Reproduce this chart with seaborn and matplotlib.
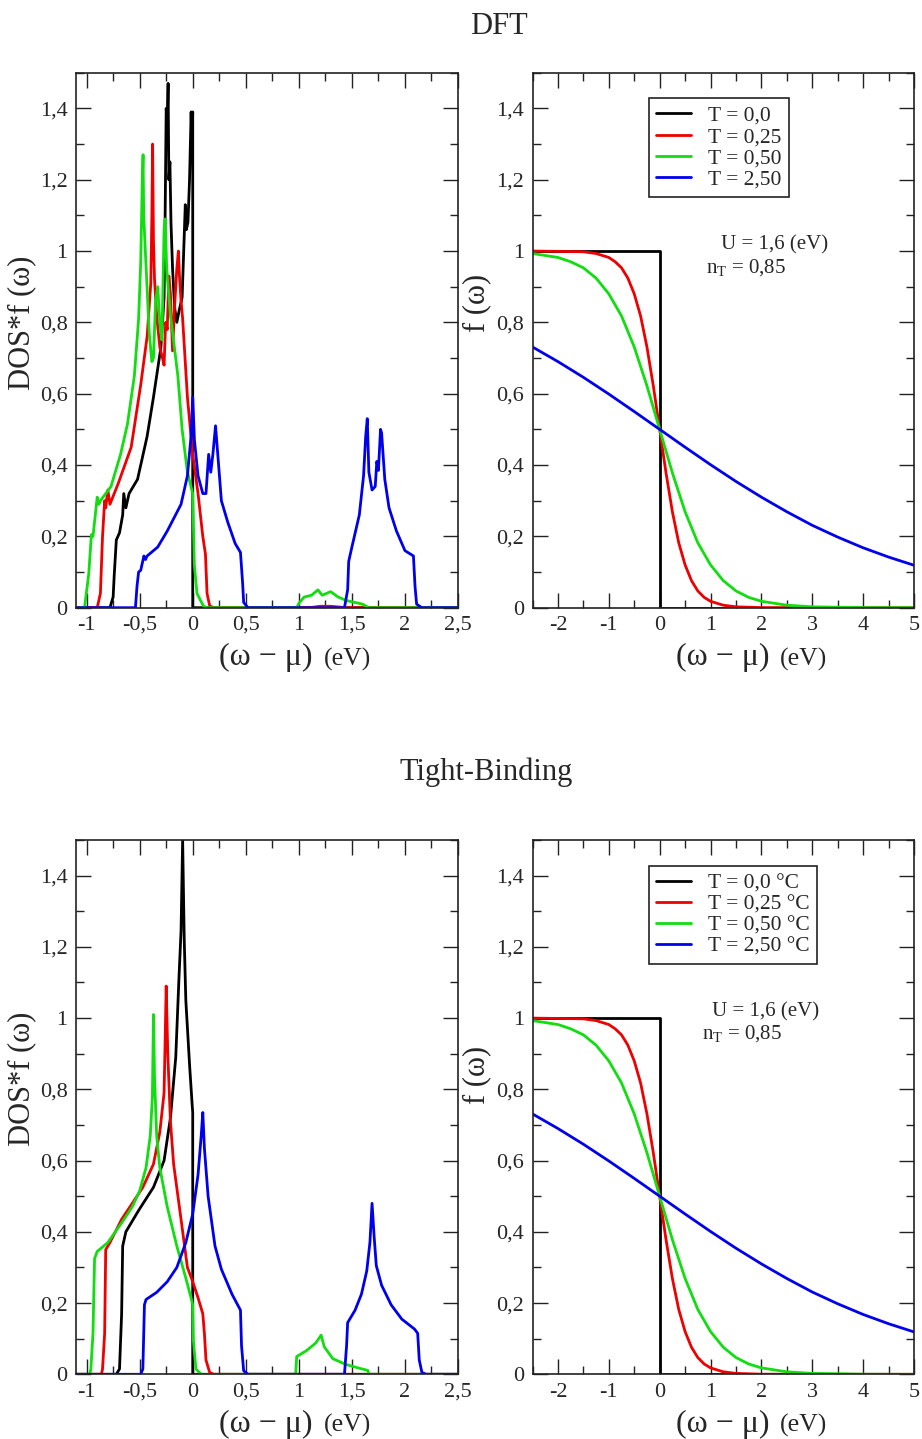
import numpy as np
import pandas as pd
import matplotlib
matplotlib.use("Agg")
import matplotlib.pyplot as plt
from matplotlib.ticker import FixedLocator, FixedFormatter, MultipleLocator
import seaborn as sns

# ---------------- DATA ----------------
# DFT panel: DOS*f(omega)
dft_black_x = [-1.1, -0.78, -0.75, -0.74, -0.72, -0.69, -0.66, -0.65, -0.63, -0.6, -0.52, -0.43, -0.37, -0.3, -0.27,
               -0.26, -0.25, -0.24, -0.232, -0.225, -0.215, -0.205, -0.19, -0.17, -0.15, -0.13, -0.1, -0.085, -0.07,
               -0.06, -0.045, -0.03, -0.015, -0.008, 0.0, 0.0, 2.5]
dft_black_y = [0.0, 0.0, 0.03, 0.09, 0.19, 0.21, 0.26, 0.32, 0.28, 0.32, 0.36, 0.48, 0.59, 0.73, 0.87,
               1.1, 1.4, 1.36, 1.47, 1.2, 1.25, 1.08, 0.95, 0.84, 0.8, 0.83, 0.87, 1.0, 1.13,
               1.06, 1.08, 1.2, 1.39, 1.3, 1.39, 0.0, 0.0]

dft_red_x = [-1.1, -0.9, -0.87, -0.85, -0.83, -0.82, -0.8, -0.78, -0.7, -0.58, -0.49, -0.43, -0.395, -0.385, -0.378,
             -0.37, -0.36, -0.34, -0.31, -0.285, -0.27, -0.255, -0.24, -0.225, -0.21, -0.19, -0.17, -0.15, -0.135,
             -0.125, -0.11, -0.095, -0.05, 0.0, 0.05, 0.095, 0.12, 0.135, 0.16, 0.2, 1.1, 1.2, 1.3, 1.45, 2.5]
dft_red_y = [0.0, 0.0, 0.04, 0.2, 0.3, 0.28, 0.33, 0.29, 0.35, 0.45, 0.625, 0.76, 0.91, 1.1, 1.3,
             1.03, 0.92, 0.82, 0.73, 0.7, 0.68, 0.8, 0.78, 0.93, 0.88, 0.72, 0.85, 0.95, 1.0,
             0.93, 0.86, 0.81, 0.59, 0.43, 0.32, 0.2, 0.15, 0.04, 0.005, 0.0, 0.0, 0.004, 0.004, 0.0, 0.0]

dft_green_x = [-1.1, -1.02, -0.98, -0.955, -0.94, -0.9, -0.885, -0.87, -0.77, -0.68, -0.615, -0.55, -0.51, -0.49,
               -0.475, -0.468, -0.462, -0.445, -0.41, -0.385, -0.37, -0.35, -0.33, -0.31, -0.29, -0.27, -0.26,
               -0.245, -0.21, -0.14, -0.1, -0.05, 0.0, 0.015, 0.04, 0.1, 0.13, 0.98, 1.0, 1.05, 1.12, 1.18,
               1.22, 1.3, 1.37, 1.45, 1.6, 1.66, 2.5]
dft_green_y = [0.0, 0.0, 0.094, 0.205, 0.2, 0.31, 0.29, 0.3, 0.34, 0.43, 0.515, 0.65, 0.81, 0.97,
               1.2, 1.27, 1.1, 0.99, 0.77, 0.69, 0.7, 0.86, 0.9, 0.8, 0.75, 1.06, 1.09,
               0.95, 0.82, 0.65, 0.5, 0.38, 0.32, 0.12, 0.04, 0.005, 0.0, 0.0, 0.012, 0.03, 0.035, 0.05,
               0.035, 0.045, 0.03, 0.02, 0.01, 0.0, 0.0]

dft_blue_x = [-1.1, -0.54, -0.525, -0.51, -0.49, -0.46, -0.445, -0.43, -0.33, -0.24, -0.11, -0.05, -0.016, 0.0,
              0.016, 0.05, 0.095, 0.125, 0.15, 0.17, 0.19, 0.215, 0.24, 0.27, 0.33, 0.4, 0.45, 0.47, 0.48, 0.52,
              1.43, 1.46, 1.47, 1.5, 1.57, 1.61, 1.63, 1.645, 1.66, 1.69, 1.72, 1.735, 1.75, 1.77, 1.78, 1.81,
              1.85, 1.92, 2.0, 2.08, 2.095, 2.11, 2.16, 2.5]
dft_blue_y = [0.0, 0.0, 0.06, 0.1, 0.105, 0.145, 0.135, 0.145, 0.17, 0.215, 0.29, 0.37, 0.48, 0.59,
              0.47, 0.37, 0.32, 0.32, 0.43, 0.38, 0.43, 0.51, 0.415, 0.3, 0.24, 0.18, 0.155, 0.07, 0.015, 0.0,
              0.0, 0.05, 0.13, 0.17, 0.26, 0.37, 0.48, 0.53, 0.38, 0.33, 0.34, 0.41, 0.385, 0.5, 0.49, 0.36,
              0.28, 0.215, 0.16, 0.145, 0.06, 0.01, 0.0, 0.0]

# Tight-Binding panel: DOS*f(omega)
tb_black_x = [-1.1, -0.72, -0.69, -0.67, -0.66, -0.63, -0.51, -0.37, -0.27, -0.21, -0.16, -0.13, -0.11, -0.095,
              -0.08, -0.065, -0.03, -0.006, 0.0, 0.0, 2.5]
tb_black_y = [0.0, 0.0, 0.015, 0.17, 0.36, 0.4, 0.46, 0.525, 0.6, 0.72, 0.89, 1.11, 1.245, 1.5,
              1.22, 1.05, 0.87, 0.76, 0.735, 0.0, 0.0]

tb_red_x = [-1.1, -0.86, -0.85, -0.83, -0.82, -0.78, -0.67, -0.57, -0.47, -0.37, -0.31, -0.27, -0.26, -0.25,
            -0.235, -0.21, -0.18, -0.11, -0.05, 0.0, 0.05, 0.095, 0.11, 0.125, 0.16, 0.2, 2.5]
tb_red_y = [0.0, 0.0, 0.015, 0.115, 0.35, 0.37, 0.435, 0.48, 0.525, 0.59, 0.68, 0.79, 0.935, 1.09,
            0.9, 0.71, 0.59, 0.435, 0.3, 0.26, 0.215, 0.17, 0.115, 0.04, 0.005, 0.0, 0.0]

tb_green_x = [-1.1, -0.97, -0.96, -0.94, -0.925, -0.9, -0.8, -0.67, -0.57, -0.5, -0.44, -0.4, -0.38, -0.37,
              -0.36, -0.34, -0.31, -0.24, -0.15, -0.065, -0.016, 0.0, 0.006, 0.03, 0.08, 0.97, 0.98, 1.07,
              1.16, 1.21, 1.24, 1.32, 1.44, 1.57, 1.65, 1.66, 2.5]
tb_green_y = [0.0, 0.0, 0.015, 0.115, 0.325, 0.345, 0.37, 0.425, 0.47, 0.515, 0.58, 0.67, 0.78, 1.01,
              0.835, 0.67, 0.58, 0.47, 0.36, 0.27, 0.215, 0.195, 0.095, 0.015, 0.0, 0.0, 0.05, 0.066,
              0.088, 0.11, 0.077, 0.044, 0.028, 0.017, 0.011, 0.0, 0.0]

tb_blue_x = [-1.1, -0.49, -0.47, -0.455, -0.44, -0.34, -0.24, -0.15, -0.065, 0.0, 0.05, 0.08, 0.095, 0.11,
             0.145, 0.21, 0.27, 0.37, 0.45, 0.46, 0.48, 0.52, 1.43, 1.45, 1.46, 1.53, 1.59, 1.64, 1.67, 1.69,
             1.71, 1.73, 1.78, 1.87, 1.97, 2.09, 2.12, 2.135, 2.16, 2.2, 2.5]
tb_blue_y = [0.0, 0.0, 0.015, 0.195, 0.21, 0.23, 0.26, 0.3, 0.37, 0.45, 0.56, 0.67, 0.735, 0.635,
             0.5, 0.36, 0.295, 0.225, 0.18, 0.08, 0.01, 0.0, 0.0, 0.08, 0.145, 0.18, 0.225, 0.29, 0.37, 0.48,
             0.385, 0.305, 0.25, 0.195, 0.155, 0.127, 0.115, 0.04, 0.005, 0.0, 0.0]

# Right panels: occupation f(omega)
f_black_x = [-2.5, 0.0, 0.0, 5.0]
f_black_y = [1.0, 1.0, 0.0, 0.0]
f_red_x = [-2.5, -1.5, -1.25, -1.0, -0.875, -0.75, -0.625, -0.5, -0.375, -0.25, -0.125, 0.0,
           0.125, 0.25, 0.375, 0.5, 0.625, 0.75, 0.875, 1.0, 1.25, 1.5, 2.0, 5.0]
f_red_y = [1.0, 0.998, 0.993, 0.982, 0.97, 0.953, 0.924, 0.88, 0.818, 0.731, 0.622, 0.5,
           0.378, 0.269, 0.182, 0.12, 0.076, 0.047, 0.029, 0.018, 0.007, 0.0025, 0.0003, 0.0]
f_green_x = [-2.5, -2.0, -1.75, -1.5, -1.25, -1.0, -0.75, -0.5, -0.25, 0.0, 0.25, 0.5, 0.75, 1.0,
             1.25, 1.5, 1.75, 2.0, 2.5, 3.0, 4.0, 5.0]
f_green_y = [0.993, 0.982, 0.97, 0.953, 0.924, 0.88, 0.818, 0.731, 0.622, 0.5, 0.378, 0.269, 0.182, 0.12,
             0.076, 0.047, 0.029, 0.018, 0.007, 0.0025, 0.0003, 0.0]
f_blue_x = [-2.5, -2.0, -1.5, -1.0, -0.5, 0.0, 0.5, 1.0, 1.5, 2.0, 2.5, 3.0, 3.5, 4.0, 4.5, 5.0]
f_blue_y = [0.731, 0.69, 0.646, 0.599, 0.55, 0.5, 0.45, 0.401, 0.354, 0.31, 0.269, 0.231, 0.198, 0.168, 0.142, 0.119]

legend_dft = ["T = 0,0", "T = 0,25", "T = 0,50", "T = 2,50"]
legend_tb = ["T = 0,0 \u00b0C", "T = 0,25 \u00b0C", "T = 0,50 \u00b0C", "T = 2,50 \u00b0C"]

dos_xticks = [-1, -0.5, 0, 0.5, 1, 1.5, 2, 2.5]
dos_xlabels = ["-1", "-0,5", "0", "0,5", "1", "1,5", "2", "2,5"]
f_xticks = [-2, -1, 0, 1, 2, 3, 4, 5]
f_xlabels = ["-2", "-1", "0", "1", "2", "3", "4", "5"]
yticks = [0, 0.2, 0.4, 0.6, 0.8, 1.0, 1.2, 1.4]
ylabels = ["0", "0,2", "0,4", "0,6", "0,8", "1", "1,2", "1,4"]

panel_titles = ["DFT", "Tight-Binding"]
annot_U = "U = 1,6 (eV)"
annot_n = "n$_\\mathrm{T}$ = 0,85"

colors = ["#000000", "#ee0000", "#11dd11", "#0000ee"]

# ---------------- STYLE ----------------
sns.set_style("white")
plt.rcParams["font.family"] = ["Liberation Serif", "DejaVu Serif"]
plt.rcParams["mathtext.fontset"] = "custom"
plt.rcParams["mathtext.rm"] = "Liberation Serif"
plt.rcParams["mathtext.it"] = "Liberation Serif:italic"

fig = plt.figure(figsize=(9.22, 14.39), dpi=100)
W, H = 922.0, 1439.0


def add_ax(l, t, r, b):
    return fig.add_axes([l / W, 1 - b / H, (r - l) / W, (b - t) / H])


ax_dft = add_ax(76, 72.7, 458, 607.7)
ax_fd = add_ax(532.5, 72.7, 914, 607.7)
ax_tb = add_ax(76, 840, 458, 1374.3)
ax_ft = add_ax(532.5, 840, 914, 1374.3)

LW = 2.0
TICK_FS = 16
YLAB_FS = 22


def style_axes(ax, xlim, xt, xl, xminor):
    ax.set_xlim(*xlim)
    ax.set_ylim(0, 1.5)
    ax.xaxis.set_major_locator(FixedLocator(xt))
    ax.xaxis.set_major_formatter(FixedFormatter(xl))
    ax.xaxis.set_minor_locator(MultipleLocator(xminor))
    ax.yaxis.set_major_locator(FixedLocator(yticks))
    ax.yaxis.set_major_formatter(FixedFormatter(ylabels))
    ax.yaxis.set_minor_locator(MultipleLocator(0.1))
    ax.tick_params(which="both", direction="in", top=True, right=True, bottom=True, left=True,
                   width=1.0, color="#222222", labelsize=TICK_FS, pad=6)
    ax.tick_params(which="major", length=11)
    ax.tick_params(which="minor", length=5.5)
    for sp in ax.spines.values():
        sp.set_visible(True)
        sp.set_linewidth(1.2)
        sp.set_color("#222222")
    ax.set_xlabel("")
    ax.set_ylabel("")


def draw(ax, xs, ys, labels=None):
    for i, (x, y) in enumerate(zip(xs, ys)):
        df = pd.DataFrame({"x": x, "y": y})
        sns.lineplot(data=df, x="x", y="y", ax=ax, sort=False, estimator=None,
                     color=colors[i], lw=LW, label=(labels[i] if labels else None), legend=False)


def xlabel(ax):
    ax.text(0.62, -0.108, "(\u03c9 \u2212 \u03bc)", transform=ax.transAxes, ha="right", va="baseline", fontsize=23)
    ax.text(0.648, -0.108, "(eV)", transform=ax.transAxes, ha="left", va="baseline", fontsize=18.5)


# DFT DOS
draw(ax_dft, [dft_black_x, dft_red_x, dft_green_x, dft_blue_x], [dft_black_y, dft_red_y, dft_green_y, dft_blue_y])
style_axes(ax_dft, (-1.1, 2.5), dos_xticks, dos_xlabels, 0.25)
ax_dft.text(-0.142, 0.533, "DOS*f (\u03c9)", transform=ax_dft.transAxes, rotation=90, ha="center", va="center", fontsize=YLAB_FS)
xlabel(ax_dft)

# TB DOS
draw(ax_tb, [tb_black_x, tb_red_x, tb_green_x, tb_blue_x], [tb_black_y, tb_red_y, tb_green_y, tb_blue_y])
style_axes(ax_tb, (-1.1, 2.5), dos_xticks, dos_xlabels, 0.25)
ax_tb.text(-0.142, 0.553, "DOS*f (\u03c9)", transform=ax_tb.transAxes, rotation=90, ha="center", va="center", fontsize=YLAB_FS)
xlabel(ax_tb)

# Fermi panels
for ax, leg_labels, uxy, nxy, ylc in [(ax_fd, legend_dft, (0.495, 0.678), (0.455, 0.636), 0.57),
                                       (ax_ft, legend_tb, (0.47, 0.678), (0.445, 0.637), 0.56)]:
    draw(ax, [f_black_x, f_red_x, f_green_x, f_blue_x], [f_black_y, f_red_y, f_green_y, f_blue_y], leg_labels)
    style_axes(ax, (-2.5, 5), f_xticks, f_xlabels, 0.5)
    ax.text(-0.145, ylc, "f (\u03c9)", transform=ax.transAxes, rotation=90, ha="center", va="center", fontsize=YLAB_FS)
    xlabel(ax)
    leg = ax.legend(loc="upper left", bbox_to_anchor=(0.305, 0.952), fontsize=15.5, frameon=True,
                    fancybox=False, shadow=False, framealpha=1.0, edgecolor="#222222",
                    handlelength=1.6, handletextpad=0.8, labelspacing=0.05, borderpad=0.35,
                    borderaxespad=0.0)
    leg.get_frame().set_linewidth(1.2)
    ax.text(uxy[0], uxy[1], annot_U, transform=ax.transAxes, ha="left", va="center", fontsize=15)
    ax.text(nxy[0], nxy[1], annot_n, transform=ax.transAxes, ha="left", va="center", fontsize=15)

fig.text(499 / W, 1 - 34 / H, panel_titles[0], ha="center", va="baseline", fontsize=22)
fig.text(486 / W, 1 - 780 / H, panel_titles[1], ha="center", va="baseline", fontsize=22)

fig.savefig("out.png", dpi=100)
